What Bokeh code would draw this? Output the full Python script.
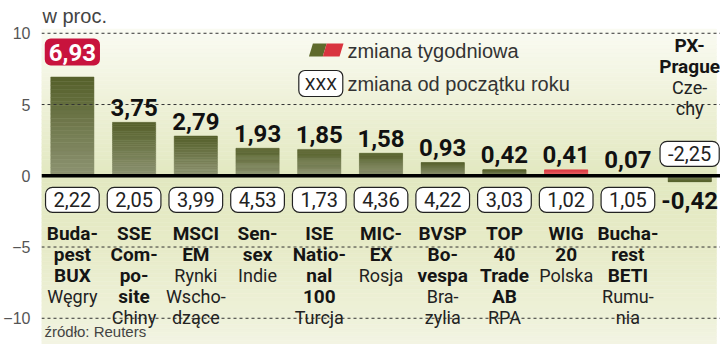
from bokeh.plotting import figure
from bokeh.models import ColumnDataSource, Range1d, FixedTicker, Label
from bokeh.core.properties import value
from bokeh.embed import file_html
from bokeh.resources import INLINE

# ---------------- data ----------------
index_names = ["Buda-\npest\nBUX", "SSE\nCom-\npo-\nsite", "MSCI\nEM", "Sen-\nsex",
               "ISE\nNatio-\nnal\n100", "MIC-\nEX", "BVSP\nBo-\nvespa", "TOP\n40\nTrade\nAB",
               "WIG\n20", "Bucha-\nrest\nBETI", "PX-\nPrague"]
countries = ["Węgry", "Chiny", "Rynki\nWscho-\ndzące", "Indie", "Turcja", "Rosja",
             "Bra-\nzylia", "RPA", "Polska", "Rumu-\nnia", "Cze-\nchy"]
weekly = [6.93, 3.75, 2.79, 1.93, 1.85, 1.58, 0.93, 0.42, 0.41, 0.07, -0.42]
ytd = [2.22, 2.05, 3.99, 4.53, 1.73, 4.36, 4.22, 3.03, 1.02, 1.05, -2.25]
bar_kind = ["g", "g", "g", "g", "g", "g", "g", "g", "r", "g", "g"]
y_ticks = [-10, -5, 0, 5, 10]
unit_label = "w proc."
source_label = "źródło: Reuters"
legend_weekly = "zmiana tygodniowa"
legend_ytd = "zmiana od początku roku"

# ---------------- layout helpers ----------------
W, H = 720, 344
FRAME_L = 32
X0, X1 = -0.5, 10.5
Y_TOP, Y_BOT = 12.30, -11.84
COND = "Roboto"
REG = "Liberation Sans"


def dx(px):
    return X0 + (px - FRAME_L) / (W - FRAME_L) * (X1 - X0)


def dy(py):
    return Y_TOP - py / H * (Y_TOP - Y_BOT)


def hex2rgb(h):
    h = h.lstrip("#")
    return tuple(int(h[i:i + 2], 16) for i in (0, 2, 4))


def lerp(c1, c2, t):
    a, b = hex2rgb(c1), hex2rgb(c2)
    return "#%02x%02x%02x" % tuple(int(round(a[i] + (b[i] - a[i]) * t)) for i in range(3))


def fmt(v):
    return ("%.2f" % v).replace(".", ",")


p = figure(width=W, height=H, output_backend="svg", toolbar_location=None,
           x_range=Range1d(X0, X1), y_range=Range1d(Y_BOT, Y_TOP),
           min_border_left=FRAME_L, min_border_right=0, min_border_top=0, min_border_bottom=0)
p.xaxis.visible = False
p.xgrid.visible = False
p.ygrid.visible = False
p.outline_line_color = None
p.background_fill_color = "white"
p.border_fill_color = "white"

ax = p.yaxis[0]
ax.ticker = FixedTicker(ticks=y_ticks)
ax.axis_line_color = None
ax.major_tick_line_color = None
ax.minor_tick_line_color = None
ax.major_label_text_font = REG
ax.major_label_text_font_size = "16px"
ax.major_label_text_color = "#555555"
ax.major_label_standoff = 5

# ---------------- background gradient ----------------
stops = [(10.3, "#fafbf3"), (5, "#eef1d8"), (0, "#e2e8c0"), (-5, "#e7ebc8"),
         (-10, "#eef1d9"), (Y_BOT, "#f3f4e4")]
nb = 80
b_top, b_bot, b_col = [], [], []
for k in range(nb):
    t0 = stops[0][0] + (stops[-1][0] - stops[0][0]) * k / nb
    t1 = stops[0][0] + (stops[-1][0] - stops[0][0]) * (k + 1) / nb
    mid = (t0 + t1) / 2
    for j in range(len(stops) - 1):
        if stops[j][0] >= mid >= stops[j + 1][0]:
            f = (stops[j][0] - mid) / (stops[j][0] - stops[j + 1][0])
            b_col.append(lerp(stops[j][1], stops[j + 1][1], f))
            break
    b_top.append(t0)
    b_bot.append(t1)
p.quad(left=X0, right=dx(716), top=b_top, bottom=b_bot, fill_color=b_col,
       line_color=b_col, line_width=0.5, level="image")

# ---------------- bars (gradient) ----------------
grad = {"g": ("#8d9372", "#55602a"), "r": ("#ee7a7a", "#dc3c44")}
NS = 24
sx, sb, st, sc = [], [], [], []
for i, v in enumerate(weekly):
    lo, hi = grad[bar_kind[i]]
    for k in range(NS):
        sx.append(i)
        sb.append(v * k / NS)
        st.append(v * (k + 1) / NS)
        sc.append(lerp(lo, hi, (k + 0.5) / NS))
p.vbar(x=sx, bottom=sb, top=st, width=0.7, fill_color=sc, line_color=sc, line_width=0.5)

# ---------------- grid lines & baseline ----------------
gl = [t for t in y_ticks if t != 0]
p.segment(x0=[X0] * len(gl), x1=[X1] * len(gl), y0=gl, y1=gl,
          line_color="#333333", line_width=1, line_dash="3 3")
p.segment(x0=[X0], x1=[X1], y0=[0], y1=[0], line_color="black", line_width=3.5)

# ---------------- weekly value labels ----------------
top_i = max(range(len(weekly)), key=lambda i: weekly[i])
wl = dict(x=[], y=[], t=[], off=[])
for i, v in enumerate(weekly):
    if i == top_i:
        continue
    wl["x"].append(i)
    wl["y"].append(v)
    wl["t"].append(fmt(v))
    wl["off"].append(-15 if v >= 0 else 19)
p.text(x="x", y="y", text="t", y_offset="off", source=ColumnDataSource(wl),
       text_align="center", text_baseline="middle", text_font=value(COND),
       text_font_style="bold", text_font_size="24px", text_color="#111111")
p.text(x=[top_i], y=[weekly[top_i]], text=[fmt(weekly[top_i])], y_offset=-25,
       text_align="center", text_baseline="middle", text_font=value(COND),
       text_font_style="bold", text_font_size="24px", text_color="white",
       background_fill_color="#c8133d", border_radius=6, padding=(4, 4, 5, 5))

# ---------------- YTD boxes ----------------
yl = dict(x=list(range(len(ytd))), y=[0] * len(ytd), t=[fmt(v) for v in ytd],
          off=[24 if w >= 0 else -22 for w in weekly])
p.text(x="x", y="y", text="t", y_offset="off", source=ColumnDataSource(yl),
       text_align="center", text_baseline="middle", text_font=value(COND),
       text_font_size="20px", text_color="#222222",
       background_fill_color="white", border_line_color="#222222", border_line_width=1.2,
       border_radius=7, padding=(8, 8, 5, 5))

# ---------------- category labels ----------------
LH = 21
bold = dict(x=[], y=[], t=[], off=[])
reg = dict(x=[], y=[], t=[], off=[])
for i, (nm, ct) in enumerate(zip(index_names, countries)):
    bl = nm.split("\n")
    rl = ct.split("\n")
    lines = [(s, True) for s in bl] + [(s, False) for s in rl]
    n = len(lines)
    for k, (s, isb) in enumerate(lines):
        off = 58 + LH * k if weekly[i] >= 0 else -67 - LH * (n - 1 - k)
        d = bold if isb else reg
        d["x"].append(i)
        d["y"].append(0)
        d["t"].append(s)
        d["off"].append(off)
p.text(x="x", y="y", text="t", y_offset="off", source=ColumnDataSource(bold),
       text_align="center", text_baseline="middle", text_font=value(COND),
       text_font_style="bold", text_font_size="19px", text_color="#151515")
p.text(x="x", y="y", text="t", y_offset="off", source=ColumnDataSource(reg),
       text_align="center", text_baseline="middle", text_font=value(COND),
       text_font_size="18px", text_color="#222222")

# ---------------- legend ----------------
p.patch(x=[dx(303), dx(307), dx(321), dx(317)], y=[dy(56), dy(43), dy(43), dy(56)],
        fill_color="#5f6a2c", line_color=None)
p.patch(x=[dx(317), dx(321), dx(338), dx(334)], y=[dy(56), dy(43), dy(43), dy(56)],
        fill_color="#d9343f", line_color=None)
p.text(x=[dx(342)], y=[dy(50)], text=[legend_weekly], text_align="left", text_baseline="middle",
       text_font=value(REG), text_font_size="20px", text_color="#333333")
p.text(x=[dx(315)], y=[dy(83)], text=["XXX"], text_align="center", text_baseline="middle",
       text_font=value(COND), text_font_size="17px", text_color="#222222",
       background_fill_color="white", border_line_color="#222222", border_line_width=1.2,
       border_radius=6, padding=(6, 6, 3, 3))
p.text(x=[dx(342)], y=[dy(83)], text=[legend_ytd], text_align="left", text_baseline="middle",
       text_font=value(REG), text_font_size="20px", text_color="#333333")

# ---------------- titles ----------------
p.add_layout(Label(x=dx(33), y=dy(15), text=unit_label, text_align="left", text_baseline="middle",
                   text_font=REG, text_font_size="20px", text_color="#444444"))
p.add_layout(Label(x=dx(35), y=dy(331), text=source_label, text_align="left",
                   text_baseline="middle", text_font=REG, text_font_size="15px",
                   text_color="#444444"))

open("out.html", "w").write(file_html(p, INLINE))
